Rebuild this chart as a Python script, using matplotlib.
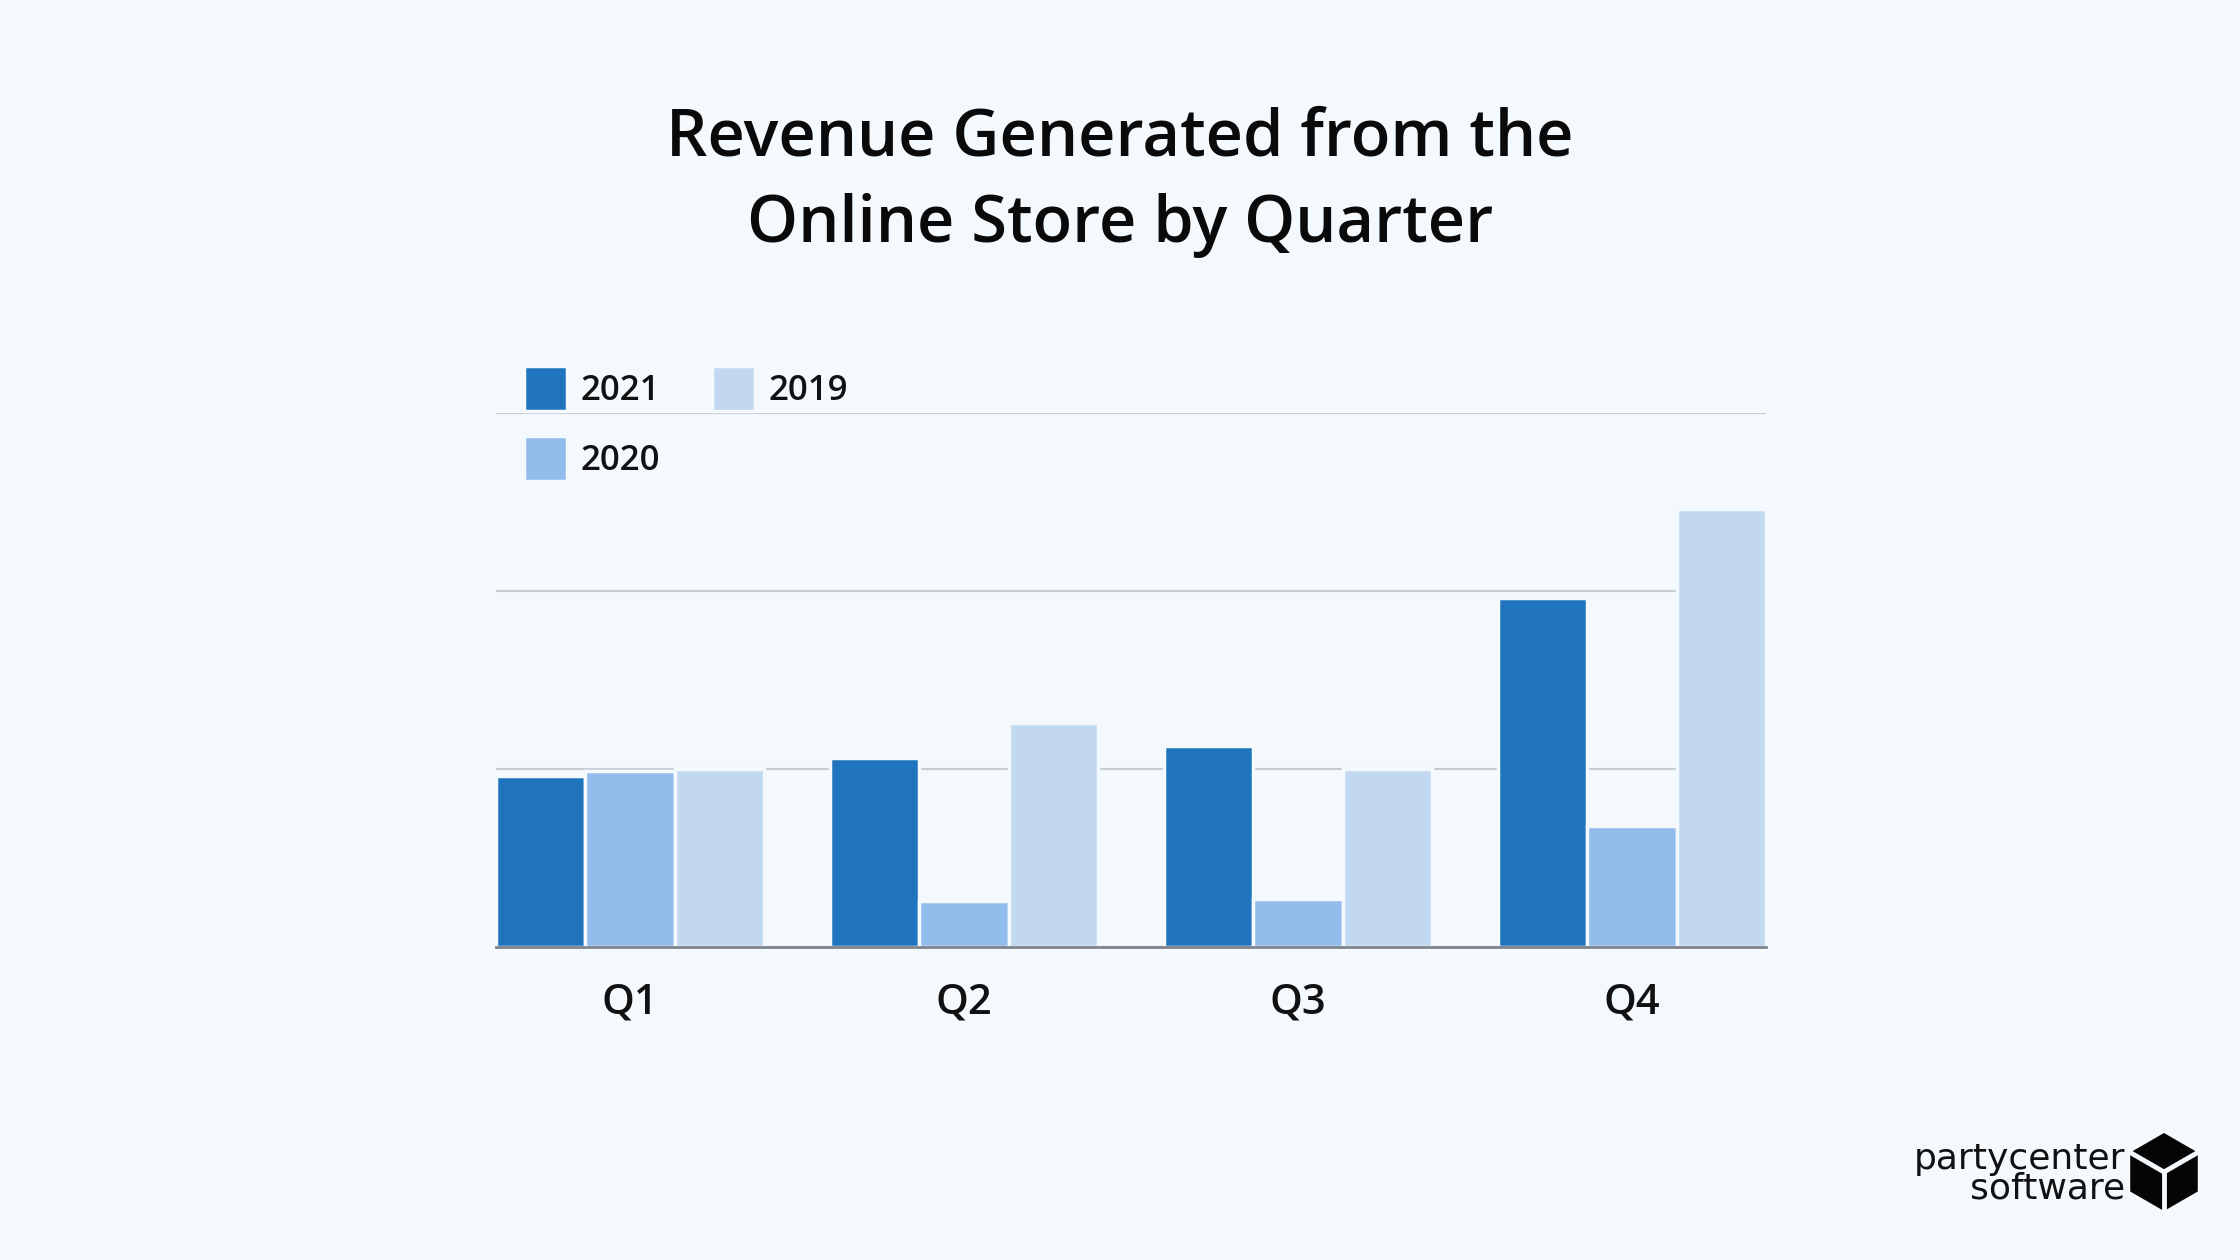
import matplotlib.pyplot as plt
import numpy as np
from matplotlib.patches import Polygon

# Values, in gridline units (no axis labels shown)
quarters = ['Q1', 'Q2', 'Q3', 'Q4']
rev_2021 = [0.96, 1.06, 1.13, 1.96]
rev_2020 = [0.99, 0.26, 0.27, 0.68]
rev_2019 = [1.00, 1.26, 1.00, 2.46]
series_names = ['2021', '2020', '2019']

bg = '#F4F9FE'
colors = ['#1F74BD', '#91BCEB', '#C2D8F0']

plt.rcParams['font.family'] = ['Open Sans', 'DejaVu Sans']

fig = plt.figure(figsize=(22.4, 12.6), dpi=100, facecolor=bg)
ax = fig.add_axes([0.2214, 0.2484, 0.567, 0.424])
ax.set_facecolor(bg)

x = np.arange(len(quarters))
w = 0.268
bars = []
for i, (vals, name) in enumerate(zip([rev_2021, rev_2020, rev_2019], series_names)):
    b = ax.bar(x + (i - 1) * w, vals, width=w, color=colors[i], edgecolor=bg,
               linewidth=2.5, label=name, zorder=3)
    bars.append(b)

ax.set_xlim(-1.5 * w, 3 + 1.5 * w)
ax.set_ylim(0, 3)
ax.set_yticks([0, 1, 2, 3])
ax.set_yticklabels([])
ax.tick_params(axis='y', length=0)
ax.grid(axis='y', color='#C6CCD3', linewidth=1.6, zorder=0)
ax.set_axisbelow(True)
for s in ['top', 'left', 'right']:
    ax.spines[s].set_visible(False)
ax.spines['bottom'].set_color('#7E848B')
ax.spines['bottom'].set_linewidth(2)
ax.spines['bottom'].set_zorder(4)

ax.set_xticks(x)
ax.set_xticklabels(quarters, fontsize=30, fontweight='semibold', color='#111111')
ax.tick_params(axis='x', length=0, pad=25)

# legend: 2021 / 2020 in first column, 2019 in second
leg = fig.legend(handles=bars, labels=series_names, ncol=2,
                 loc='upper left', bbox_to_anchor=(0.2338, 0.7095),
                 frameon=False, handlelength=1.25, handleheight=1.6,
                 handletextpad=0.38, columnspacing=1.5, labelspacing=0.73,
                 borderpad=0, borderaxespad=0,
                 prop={'size': 25, 'weight': 'semibold'})
for t in leg.get_texts():
    t.set_color('#111111')

fig.text(0.5, 1 - 139 / 1260, 'Revenue Generated from the', ha='center', va='center',
         fontsize=46.7, fontweight='semibold', color='#0A0A0A')
fig.text(0.5, 1 - 225 / 1260, 'Online Store by Quarter', ha='center', va='center',
         fontsize=46.7, fontweight='semibold', color='#0A0A0A')

# logo
fig.text(2125 / 2240, 1 - 1174 / 1260, 'partycenter\nsoftware', ha='right', va='center',
         multialignment='right', linespacing=0.84,
         fontsize=26, family='DejaVu Sans', color='#111111')
cx, cy, r = 2164, 1172, 39
ang = np.deg2rad([90, 30, -30, -90, -150, 150])
hexpts = [((cx + r * np.cos(a)) / 2240, 1 - (cy - r * np.sin(a)) / 1260) for a in ang]
fig.patches.append(Polygon(hexpts, closed=True, transform=fig.transFigure,
                           facecolor='#050505', edgecolor='none'))
c = (cx / 2240, 1 - cy / 1260)
for a in np.deg2rad([150, 30, -90]):
    p = ((cx + r * np.cos(a)) / 2240, 1 - (cy - r * np.sin(a)) / 1260)
    fig.add_artist(plt.Line2D([c[0], p[0]], [c[1], p[1]], transform=fig.transFigure,
                              color=bg, linewidth=3.5))

fig.savefig('out.png', dpi=100, facecolor=bg)
